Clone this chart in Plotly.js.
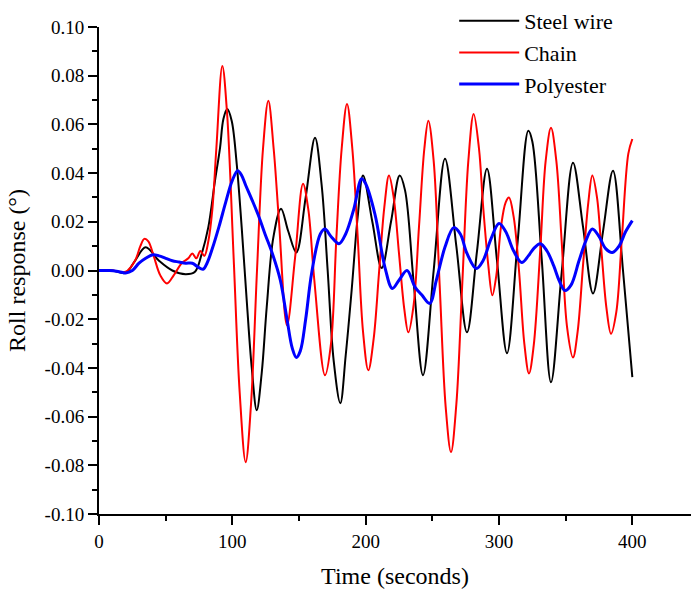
<!DOCTYPE html>
<html>
<head>
<meta charset="utf-8">
<script src="https://cdn.plot.ly/plotly-3.0.1.min.js"></script>
<style>html,body{margin:0;padding:0;background:#fff;}#chart{width:691px;height:593px;}</style>
</head>
<body>
<div id="chart"></div>
<script>
// Steel wire (black)
var steelT = [0,10,20,27,35,45,55,65,72,77,82,87,90.8,93.3,96.2,99.5,103.3,107,110.8,114.5,118.3,122,125.8,130.8,136.5,142,148,155,162,167,171.5,176,181,185,189.5,194,198,205,212,219,225.5,229.5,236,243,251,259.5,268,276,283.5,291,298.5,306,314,322,325,332,339,347,355.5,363,370.5,378,385.5,393,400];
var steelY = [0,0,-0.001,0.004,0.0095,0.004,0,-0.0015,-0.0005,0.0068,0.0178,0.0369,0.0505,0.0622,0.0663,0.0615,0.0437,0.0178,-0.0123,-0.0396,-0.0574,-0.0423,-0.015,0.0137,0.0254,0.016,0.0074,0.03,0.0545,0.035,0,-0.037,-0.0545,-0.035,-0.008,0.022,0.039,0.02,0.001,0.02,0.039,0.033,-0.005,-0.043,0,0.0459,0.01,-0.0254,0.008,0.0418,0.004,-0.034,0.012,0.0574,0.053,0.005,-0.0459,-0.001,0.0443,0.018,-0.0094,0.016,0.041,0,-0.0438];

// Chain (red)
var chainT = [0,10,20,27,31,34,37,41,46,51,56,62,67,70,73,76,79,82,85,88,92.5,96,101,105.5,110,114,118.5,123,127,131,135,141,147,153,157,161.5,169.5,174,178,182,186,190,194,198,202,206,210,214,217.5,221,225,229,232,236,240,244,247,251,255.5,260,264,268,272.5,277,281,285,288,292,295,298,301.5,305,307.5,311,315,319,322.5,326,331,335,339,343,347,351,355.5,359,363,367,370,373.5,377,380.5,384,388,392,397,400];
var chainY = [0,0,-0.0005,0.004,0.01,0.013,0.012,0.006,-0.002,-0.0053,-0.002,0.003,0.005,0.007,0.005,0.008,0.006,0.012,0.025,0.05,0.084,0.065,0.005,-0.05,-0.0787,-0.055,0,0.05,0.0697,0.05,0.02,-0.0225,0.005,0.0356,0.025,-0.004,-0.043,-0.03,0.013,0.05,0.0684,0.05,0.014,-0.025,-0.041,-0.028,-0.001,0.026,0.039,0.03,0.007,-0.016,-0.0254,-0.014,0.018,0.05,0.0615,0.045,-0.006,-0.056,-0.0746,-0.055,-0.005,0.045,0.0643,0.05,0.027,0.002,-0.0102,-0.002,0.018,0.028,0.03,0.022,0.0,-0.03,-0.0423,-0.031,0.009,0.045,0.0586,0.045,0.012,-0.023,-0.0357,-0.025,0.002,0.028,0.039,0.03,0.007,-0.015,-0.026,-0.017,0.012,0.048,0.054];

// Polyester (blue)
var polyT = [0,8,15,20,25,30,35,40.5,45,50,55,60,65,70,74,78,81,85,90,95,100,104,107,110,115,120,124.5,130,136,141,145,148,151,155,159.5,166,169.5,174,180,185,191,197,200,207,214.5,220,225,231,237,242,248,253,259.5,266,271,276,283,288,294,300,305,311,317,322,326,331,336,341,345,349.5,354,360,365,370,375,380,385,390,395,400];
var polyY = [0,0,-0.0005,-0.001,0,0.003,0.005,0.0065,0.006,0.005,0.004,0.0035,0.003,0.003,0.0015,0.0005,0.003,0.009,0.018,0.028,0.037,0.041,0.039,0.035,0.0287,0.022,0.015,0.007,-0.004,-0.02,-0.032,-0.0357,-0.033,-0.02,-0.001,0.015,0.017,0.014,0.011,0.015,0.025,0.0377,0.0356,0.023,0.0012,-0.0074,-0.004,0,-0.0068,-0.01,-0.0135,-0.004,0.0096,0.0176,0.015,0.007,0.0008,0.004,0.013,0.0193,0.016,0.008,0.0033,0.006,0.009,0.011,0.008,0.002,-0.004,-0.0082,-0.006,0.004,0.012,0.017,0.014,0.009,0.0074,0.01,0.016,0.0205];

var names = ['Steel wire','Chain','Polyester'];
var colors = ['#000000','#ff0000','#0000ff'];
var widths = [2,2,3];
var xs = [steelT, chainT, polyT];
var ys = [steelY, chainY, polyY];

var traces = names.map(function(n,i){
  return {x: xs[i], y: ys[i], name: n, type:'scatter', mode:'lines',
    line:{color: colors[i], width: widths[i], shape:'spline', smoothing:1},
    legendgroup: 'g'+i};
});

var font = 'Liberation Serif';
var layout = {
  width: 691, height: 593,
  margin: {l: 99, r: 0, t: 26, b: 79},
  paper_bgcolor: '#ffffff', plot_bgcolor: '#ffffff',
  font: {family: font, size: 19, color: '#000'},
  showlegend: true,
  legend: {x: 0.6, y: 1.055, xanchor: 'left', yanchor: 'top', bgcolor: 'rgba(0,0,0,0)',
    font: {family: font, size: 22, color: '#000'}, tracegroupgap: 0, traceorder: 'normal',
    itemwidth: 60},
  xaxis: {
    range: [0, 444], showgrid: false, zeroline: false,
    showline: true, linecolor: '#000', linewidth: 2,
    ticks: 'outside', ticklen: 9, tickwidth: 2, tickcolor: '#000',
    tickvals: [0,100,200,300,400], ticktext: ['0','100','200','300','400'],
    minor: {tickvals: [50,150,250,350], ticks: 'outside', ticklen: 5, tickwidth: 2, tickcolor: '#000'},
    tickfont: {family: font, size: 19},
    title: {text: 'Time (seconds)', font: {family: font, size: 24}, standoff: 16}
  },
  yaxis: {
    range: [-0.1, 0.1], showgrid: false, zeroline: false,
    showline: true, linecolor: '#000', linewidth: 2,
    ticks: 'outside', ticklen: 9, tickwidth: 2, tickcolor: '#000',
    tickvals: [-0.1,-0.08,-0.06,-0.04,-0.02,0,0.02,0.04,0.06,0.08,0.1],
    ticktext: ['-0.10','-0.08','-0.06','-0.04','-0.02','0.00','0.02','0.04','0.06','0.08','0.10'],
    minor: {tickvals: [-0.09,-0.07,-0.05,-0.03,-0.01,0.01,0.03,0.05,0.07,0.09], ticks: 'outside', ticklen: 5, tickwidth: 2, tickcolor: '#000'},
    tickfont: {family: font, size: 19},
    title: {text: 'Roll response (°)', font: {family: font, size: 24}, standoff: 12}
  }
};

Plotly.newPlot('chart', traces, layout, {displayModeBar: false, staticPlot: true});
</script>
</body>
</html>
